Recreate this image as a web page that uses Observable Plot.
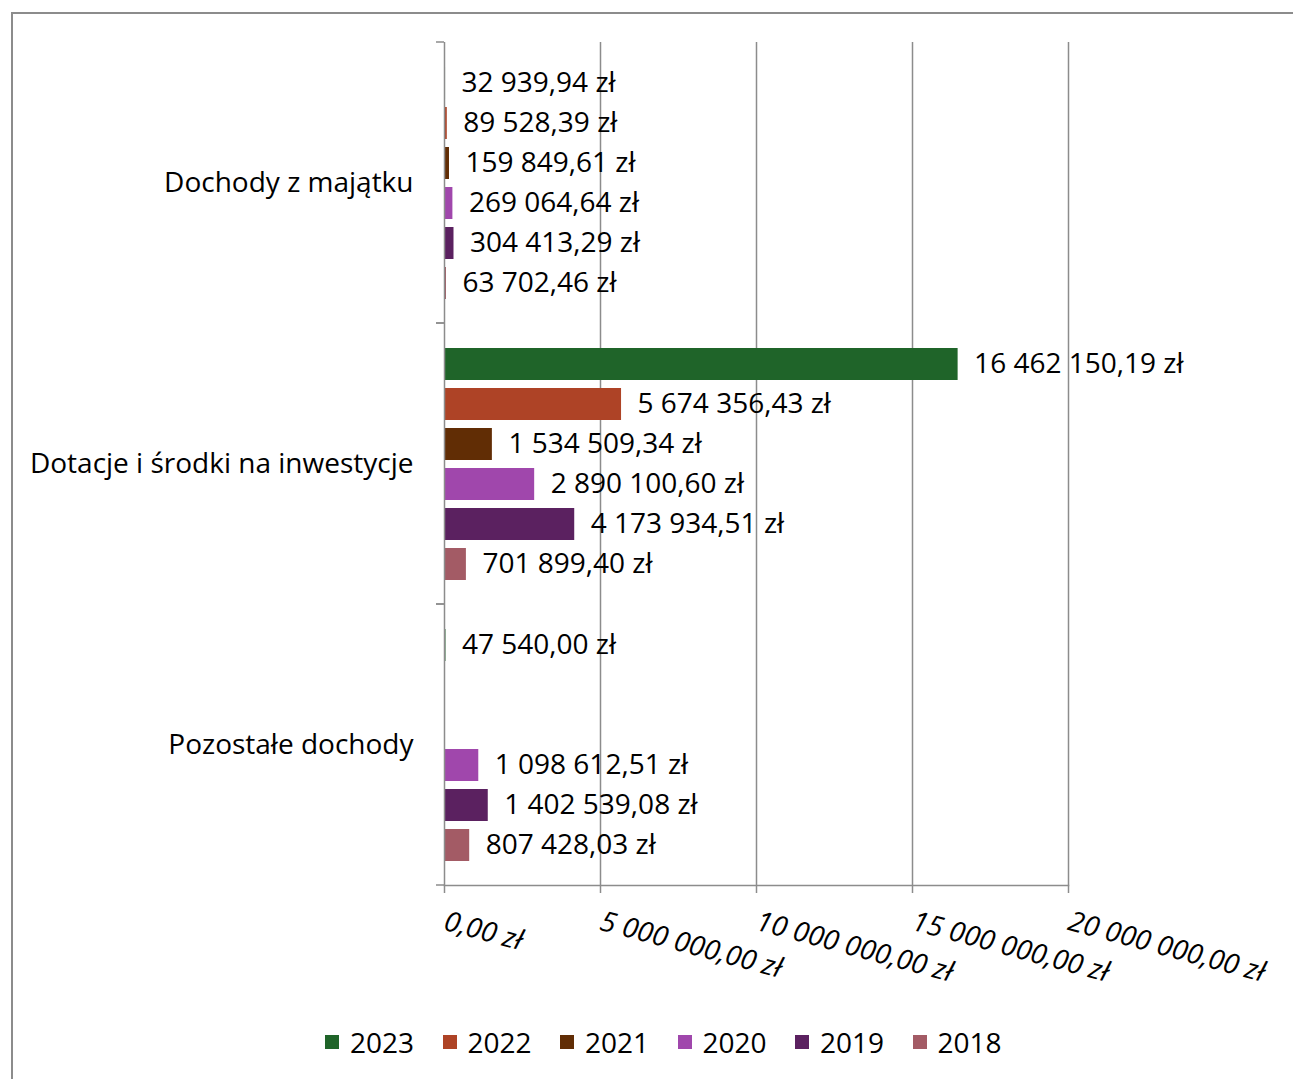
<!DOCTYPE html>
<html>
<head>
<meta charset="utf-8">
<script src="https://cdn.jsdelivr.net/npm/d3@7"></script>
<script src="https://cdn.jsdelivr.net/npm/@observablehq/plot@0.6"></script>
<style>
  html, body { margin: 0; padding: 0; width: 1293px; height: 1079px; overflow: hidden; background: #fff; font-family: "Open Sans", sans-serif; }
  #frame { position: absolute; left: 11px; top: 12px; width: 1400px; height: 1200px; border: 2px solid #8c8c8c; box-sizing: border-box; }
  #chart { position: absolute; left: 0; top: 0; }
  #chart svg { overflow: visible; }
  #legend { position: absolute; left: 325px; top: 1024px; height: 36px; display: flex; align-items: center; font-size: 28px; color: #000; }
  .item { display: flex; align-items: center; width: 117.5px; }
  .sw { width: 14px; height: 14px; margin-right: 11px; }
</style>
</head>
<body>
<div id="frame"></div>
<div id="chart"></div>
<div id="legend"></div>
<script>
const categories = ["Dochody z majątku", "Dotacje i środki na inwestycje", "Pozostałe dochody"];
const years = ["2023", "2022", "2021", "2020", "2019", "2018"];
const colors = ["#1f6429", "#ae4326", "#612d05", "#a047ac", "#5b2160", "#a35b65"];
// values per year, in category order (null = no value)
const values2023 = [32939.94, 16462150.19, 47540.00];
const values2022 = [89528.39, 5674356.43, null];
const values2021 = [159849.61, 1534509.34, null];
const values2020 = [269064.64, 2890100.60, 1098612.51];
const values2019 = [304413.29, 4173934.51, 1402539.08];
const values2018 = [63702.46, 701899.40, 807428.03];
const xTicks = [0, 5000000, 10000000, 15000000, 20000000];
const xTickLabels = ["0,00 zł", "5 000 000,00 zł", "10 000 000,00 zł", "15 000 000,00 zł", "20 000 000,00 zł"];

const series = [values2023, values2022, values2021, values2020, values2019, values2018];
const data = [];
series.forEach((vals, yi) => vals.forEach((v, ci) => {
  if (v != null) data.push({category: categories[ci], year: years[yi], value: v});
}));

const pl = d3.formatLocale({decimal: ",", thousands: " ", grouping: [3], currency: ["", ""]});
const fmt = v => pl.format(",.2f")(v) + " zł";

const gridColor = "#8c8c8c";

const boundaryTicks = (index, {x}, values, dims) => {
  const g = d3.create("svg:g").attr("stroke", gridColor).attr("stroke-width", 1.5);
  const x0 = x(0);
  const yTop = dims.marginTop, yBot = dims.height - dims.marginBottom;
  g.append("line").attr("x1", x0 - 8).attr("x2", x0).attr("y1", yTop).attr("y2", yTop);
  g.append("line").attr("x1", x0 - 8).attr("x2", x0).attr("y1", yBot).attr("y2", yBot);
  return g.node();
};

const chart = Plot.plot({
  width: 1293,
  height: 1000,
  marginTop: 42,
  marginBottom: 115,
  marginLeft: 444,
  marginRight: 225,
  style: {fontFamily: "Open Sans, sans-serif", fontSize: "28px", color: "#000", background: "transparent"},
  x: {domain: [0, 20000000], axis: null},
  y: {domain: years, axis: null, paddingInner: 0.2, paddingOuter: 0.56},
  fy: {domain: categories, padding: 0, axis: null},
  color: {domain: years, range: colors},
  marks: [
    Plot.ruleX(xTicks.slice(1), {x: d => d, stroke: gridColor, strokeWidth: 1.5}),
    Plot.barX(data, {x: "value", y: "year", fy: "category", fill: "year"}),
    Plot.ruleX([0], {x: d => d, stroke: gridColor, strokeWidth: 1.5}),
    boundaryTicks,
    Plot.frame({anchor: "bottom", facetAnchor: "bottom", stroke: gridColor, strokeWidth: 1.5}),
    Plot.axisX({ticks: xTicks, tickSize: 8, tickFormat: () => "", stroke: gridColor, strokeWidth: 1.5, label: null}),
    Plot.text(xTicks, {x: d => d, text: (d, i) => xTickLabels[i], frameAnchor: "bottom", facetAnchor: "bottom",
      rotate: 15, textAnchor: "start", dy: 44, dx: -2, fontStyle: "italic", fontSize: 28, fill: "#000"}),
    Plot.text(data, {x: "value", y: "year", fy: "category", text: d => fmt(d.value), textAnchor: "start", dx: 16, fontSize: 28, fill: "#000"}),
    Plot.axisFy({anchor: "left", tickSize: 0, tickPadding: 31, fontSize: 28, label: null})
  ]
});
document.getElementById("chart").appendChild(chart);

const legend = document.getElementById("legend");
years.forEach((yr, i) => {
  const it = document.createElement("div");
  it.className = "item";
  it.innerHTML = `<div class="sw" style="background:${colors[i]}"></div><span>${yr}</span>`;
  legend.appendChild(it);
});
</script>
</body>
</html>
